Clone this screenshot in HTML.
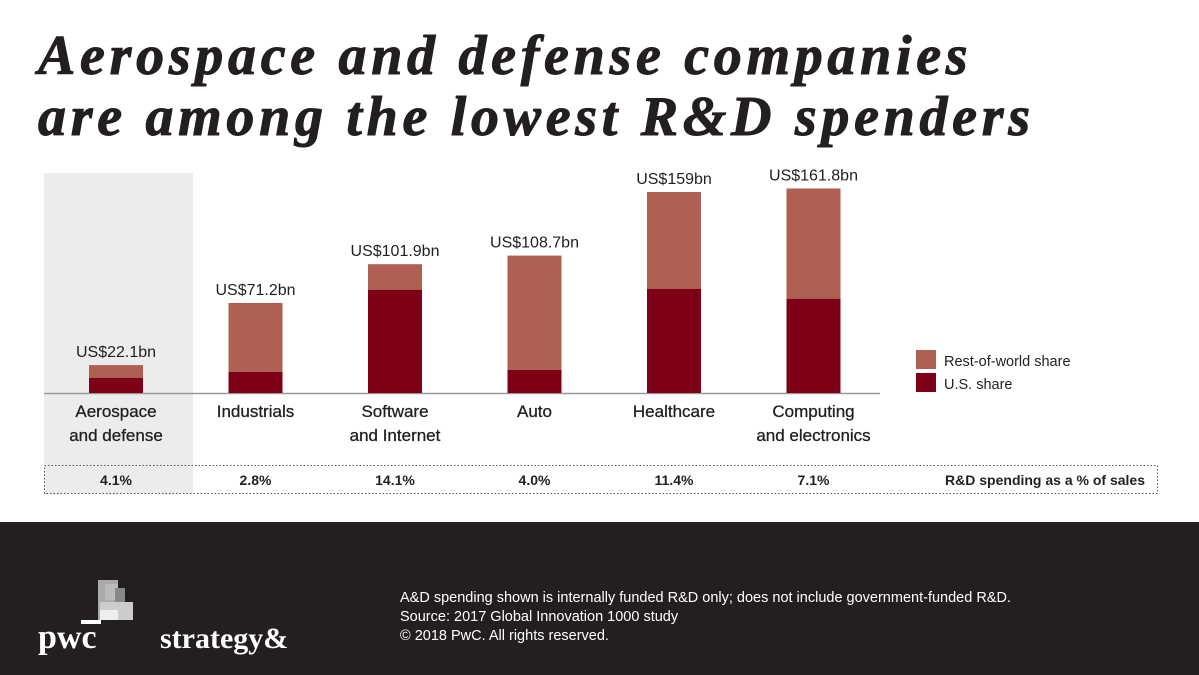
<!DOCTYPE html>
<html><head><meta charset="utf-8"><style>
body{margin:0;width:1199px;height:675px;background:#fff;overflow:hidden;font-family:"Liberation Sans",Arial,sans-serif}
.title{position:absolute;left:38px;top:26px;font-family:"Liberation Serif",serif;font-weight:bold;font-style:italic;font-size:56px;line-height:61px;color:#231f20;letter-spacing:4.7px;-webkit-text-stroke:1px #231f20}
.footer{position:absolute;left:0;top:522px;width:1199px;height:153px;background:#231f20}
</style></head><body>
<div class="title">Aerospace and defense companies<br>are among the lowest R&amp;D spenders</div>
<svg width="1199" height="522" style="position:absolute;left:0;top:0" id="chart"></svg>
<div class="footer">
 <svg width="320" height="153" style="position:absolute;left:0;top:0">
  <rect x="98" y="58" width="20" height="40" fill="#aaa"/><rect x="105" y="62" width="13" height="16" fill="#bbb"/>
  <rect x="115" y="66" width="10" height="32" fill="#888"/><rect x="100" y="80" width="33" height="18" fill="#ccc"/>
  <rect x="100" y="88" width="18" height="10" fill="#eee"/><rect x="81" y="98" width="20" height="4" fill="#fff"/>
  <text x="38" y="126" font-family="Liberation Serif,serif" font-weight="bold" font-size="34" fill="#fff">pwc</text>
  <text x="160" y="126" font-family="Liberation Serif,serif" font-weight="bold" font-size="30" fill="#fff">strategy&amp;</text>
 </svg>
 <div style="position:absolute;left:400px;top:67px;color:#fff;font-size:14.5px;line-height:19px">A&amp;D spending shown is internally funded R&amp;D only; does not include government-funded R&amp;D.<br>Source: 2017 Global Innovation 1000 study<br>© 2018 PwC. All rights reserved.</div>
</div>
<script>
const categories=[["Aerospace","and defense"],["Industrials"],["Software","and Internet"],["Auto"],["Healthcare"],["Computing","and electronics"]];
const totals=[22.1,71.2,101.9,108.7,159,161.8];
const totalLabels=["US$22.1bn","US$71.2bn","US$101.9bn","US$108.7bn","US$159bn","US$161.8bn"];
const usShare=[11.9,16.6,81.5,18.2,82.3,74.4];
const pctSales=["4.1%","2.8%","14.1%","4.0%","11.4%","7.1%"];
const svg=document.getElementById('chart');const NS='http://www.w3.org/2000/svg';
function mk(t,a,p){const e=document.createElementNS(NS,t);for(const k in a)e.setAttribute(k,a[k]);(p||svg).appendChild(e);return e;}
const base=393,scale=201/159;
const y=v=>base-v*scale;
const cx=i=>116+i*139.5;
const bw=54;
let hl=mk('rect',{x:44,y:173,width:149,height:321,fill:'#ececec'});


let tb=mk('rect',{x:44.5,y:465.5,width:1113,height:28,fill:'none',stroke:'#555','stroke-dasharray':'1.5,2'});


let ax=mk('line',{x1:44,x2:880,y1:base+0.5,y2:base+0.5,stroke:'#999','stroke-width':1.5});


categories.forEach((c,i)=>{
 const x=cx(i)-bw/2;
 let r=mk('rect',{x:x,y:y(totals[i]),width:bw,height:totals[i]*scale,fill:'#b06052'});
 
 
 let u=mk('rect',{x:x,y:y(usShare[i]),width:bw,height:usShare[i]*scale,fill:'#7d0016'});
 
 
 let t=mk('text',{x:cx(i),y:y(totals[i])-8,'text-anchor':'middle','font-size':16,fill:'#231f20'});
 t.textContent=totalLabels[i];
 
 
 c.forEach((l,j)=>{let tt=mk('text',{x:cx(i),y:417+j*24,'text-anchor':'middle','font-size':17,fill:'#231f20',stroke:'#231f20','stroke-width':0.3});tt.textContent=l;
 
 });
 let p=mk('text',{x:cx(i),y:485,'text-anchor':'middle','font-size':14,'font-weight':'bold',fill:'#231f20'});
 p.textContent=pctSales[i];
 
 
});
let pl=mk('text',{x:1145,y:485,'text-anchor':'end','font-size':14,'font-weight':'bold',fill:'#231f20'});
pl.textContent='R&D spending as a % of sales';


[['Rest-of-world share','#b06052',350],['U.S. share','#7d0016',373]].forEach(l=>{
 let s=mk('rect',{x:916,y:l[2],width:20,height:19,fill:l[1]});
 
 
 let t=mk('text',{x:944,y:l[2]+16,'font-size':14.5,fill:'#231f20'});t.textContent=l[0];
 
 
});
</script>
</body></html>
